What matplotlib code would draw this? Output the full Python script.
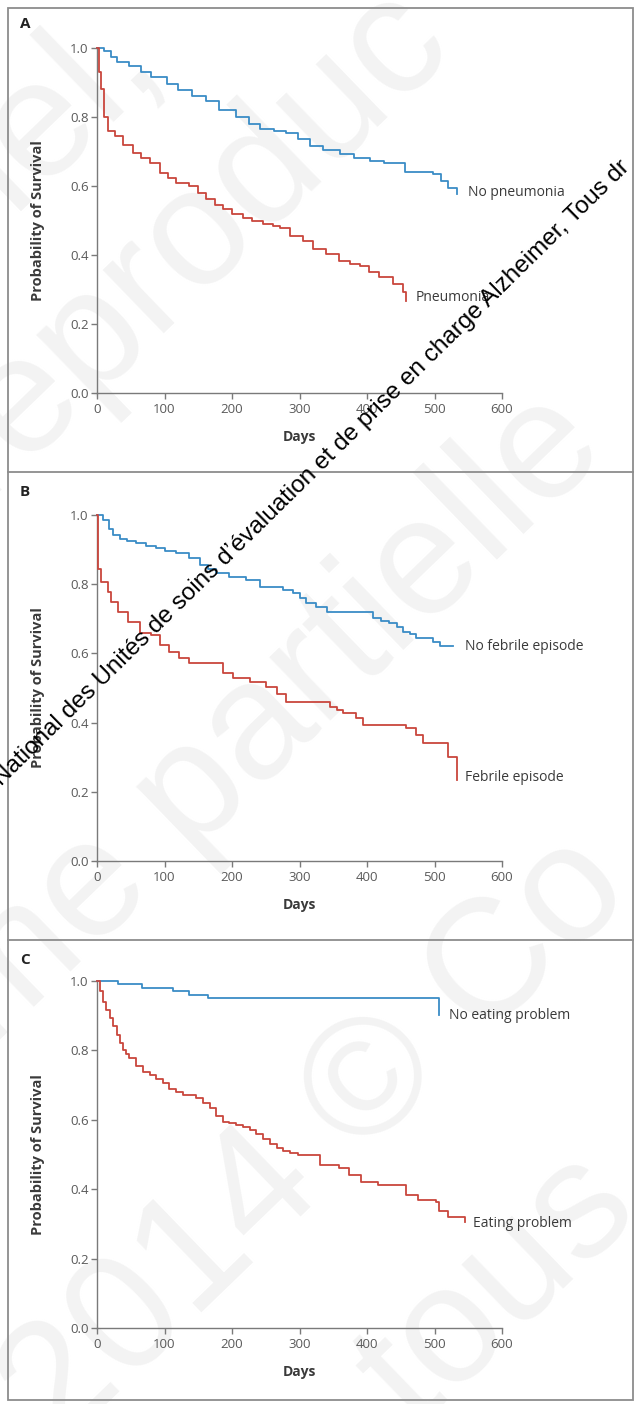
import matplotlib
matplotlib.use("Agg")
import matplotlib.pyplot as plt
from matplotlib.patches import Rectangle
from matplotlib.lines import Line2D

# panel A : pneumonia
days_a_no = [0, 10, 20, 30, 48, 65, 80, 103, 120, 140, 162, 180, 206, 225, 241, 262, 280, 298,
             315, 335, 360, 380, 404, 425, 448, 456, 480, 498, 510, 520, 534]
surv_a_no = [1.0, 0.99, 0.975, 0.96, 0.947, 0.93, 0.915, 0.895, 0.877, 0.86, 0.846, 0.82, 0.8,
             0.78, 0.766, 0.76, 0.755, 0.736, 0.716, 0.705, 0.692, 0.68, 0.673, 0.666, 0.666,
             0.64, 0.64, 0.635, 0.615, 0.595, 0.578]
days_a_yes = [0, 3, 6, 11, 16, 26, 38, 53, 65, 78, 93, 105, 117, 137, 150, 162, 175, 187, 200,
              216, 230, 246, 260, 271, 286, 305, 320, 339, 359, 375, 389, 403, 418, 438, 453, 458]
surv_a_yes = [1.0, 0.93, 0.88, 0.80, 0.76, 0.745, 0.72, 0.696, 0.68, 0.667, 0.638, 0.622, 0.609,
              0.6, 0.58, 0.561, 0.545, 0.532, 0.52, 0.508, 0.498, 0.489, 0.483, 0.478, 0.455,
              0.44, 0.418, 0.403, 0.383, 0.375, 0.369, 0.35, 0.335, 0.316, 0.292, 0.268]

# panel B : febrile episode
days_b_no = [0, 9, 18, 24, 34, 45, 58, 72, 88, 100, 117, 137, 152, 165, 177, 196, 221, 241, 275,
             290, 300, 310, 325, 340, 401, 409, 420, 433, 445, 453, 463, 473, 498, 508, 527]
surv_b_no = [1.0, 0.985, 0.96, 0.942, 0.932, 0.925, 0.918, 0.91, 0.904, 0.895, 0.889, 0.875,
             0.855, 0.845, 0.831, 0.822, 0.812, 0.793, 0.783, 0.775, 0.759, 0.745, 0.735, 0.721,
             0.721, 0.702, 0.695, 0.687, 0.675, 0.663, 0.655, 0.644, 0.634, 0.62, 0.62]
days_b_yes = [0, 1, 6, 16, 21, 31, 46, 63, 80, 93, 107, 122, 137, 172, 187, 201, 226, 251, 266,
              280, 335, 345, 355, 364, 384, 394, 443, 458, 473, 483, 517, 520, 532, 533]
surv_b_yes = [1.0, 0.845, 0.807, 0.778, 0.749, 0.72, 0.692, 0.658, 0.653, 0.624, 0.605, 0.586,
              0.571, 0.571, 0.542, 0.528, 0.518, 0.504, 0.484, 0.46, 0.46, 0.446, 0.437, 0.427,
              0.412, 0.393, 0.393, 0.383, 0.364, 0.34, 0.34, 0.302, 0.302, 0.234]

# panel C : eating problem
days_c_no = [0, 31, 66, 113, 137, 164, 506]
surv_c_no = [1.0, 0.99, 0.981, 0.971, 0.961, 0.951, 0.902]
days_c_yes = [0, 4, 9, 14, 19, 24, 29, 34, 38, 43, 48, 58, 68, 78, 88, 98, 107, 117, 127, 147,
              157, 167, 177, 187, 196, 206, 216, 226, 236, 246, 256, 266, 276, 286, 298, 315,
              330, 359, 374, 391, 416, 448, 458, 475, 502, 507, 520, 545]
surv_c_yes = [1.0, 0.97, 0.94, 0.915, 0.892, 0.87, 0.845, 0.82, 0.801, 0.79, 0.777, 0.755, 0.739,
              0.729, 0.719, 0.705, 0.69, 0.68, 0.671, 0.662, 0.648, 0.633, 0.612, 0.594, 0.59,
              0.585, 0.578, 0.57, 0.558, 0.546, 0.53, 0.518, 0.51, 0.503, 0.498, 0.498, 0.469,
              0.46, 0.44, 0.421, 0.411, 0.411, 0.383, 0.368, 0.364, 0.336, 0.321, 0.306]

panel_letters = ["A", "B", "C"]
labels_no = ["No pneumonia", "No febrile episode", "No eating problem"]
labels_yes = ["Pneumonia", "Febrile episode", "Eating problem"]
x_ticks = [0, 100, 200, 300, 400, 500, 600]
y_ticks = [0.0, 0.2, 0.4, 0.6, 0.8, 1.0]

BLUE = "#3a8cc6"
RED = "#c9463d"
GREY = "#7a7a7a"
TXT = "#3a3a3a"

W, H = 639, 1404
plt.rcParams['font.family'] = ['Open Sans', 'DejaVu Sans']

fig = plt.figure(figsize=(W / 100, H / 100), dpi=100)
fig.patch.set_facecolor("white")

# faint background watermark, behind everything
faint = "#f3f3f3"
for txt, x0, y0 in [("nel,", -30, 250), ("reproduc", -20, 500), ("me partielle", -10, 1050),
                    ("2014 © Co", 60, 1450), ("tous", 415, 1430)]:
    fig.text(x0 / W, 1 - y0 / H, txt, rotation=44, rotation_mode="anchor", ha="left",
             va="baseline", fontsize=120, color=faint, family="Liberation Sans", zorder=-5)

# panel frame
fig.add_artist(Rectangle((8 / W, 1 - 1400 / H), 625 / W, 1392 / H, transform=fig.transFigure,
                         fill=False, ec="#8c8c8c", lw=1.3, zorder=1))
for yy in [472, 940]:
    fig.add_artist(Line2D([8 / W, 633 / W], [1 - yy / H, 1 - yy / H], transform=fig.transFigure,
                          color="#8c8c8c", lw=1.3, zorder=1))

curves = [
    (days_a_no, surv_a_no, days_a_yes, surv_a_yes),
    (days_b_no, surv_b_no, days_b_yes, surv_b_yes),
    (days_c_no, surv_c_no, days_c_yes, surv_c_yes),
]
# axis boxes in pixels: top (y=1.0) and bottom (y=0.0)
boxes = [(48, 393), (515, 861), (981, 1328)]
letter_y = [24, 492, 960]
# text label anchors (days, survival)
pos_no = [(549, 0.58), (545, 0.62), (522, 0.90)]
pos_yes = [(472, 0.278), (545, 0.24), (557, 0.30)]

for i in range(3):
    top, bot = boxes[i]
    ax = fig.add_axes([97 / W, 1 - bot / H, 405 / W, (bot - top) / H])
    ax.set_facecolor("none")
    dn, sn, dy, sy = curves[i]
    ax.step(dn, sn, where="post", color=BLUE, lw=1.3, clip_on=False, zorder=3)
    ax.step(dy, sy, where="post", color=RED, lw=1.3, clip_on=False, zorder=3)
    ax.set_xlim(0, 600)
    ax.set_ylim(0, 1.0)
    ax.set_xticks(x_ticks)
    ax.set_yticks(y_ticks)
    ax.set_yticklabels(["%.1f" % v for v in y_ticks])
    for s in ["top", "right"]:
        ax.spines[s].set_visible(False)
    for s in ["left", "bottom"]:
        ax.spines[s].set_color(GREY)
        ax.spines[s].set_linewidth(1.0)
    ax.tick_params(direction="out", length=4, width=1.0, color=GREY, labelcolor="#5a5a5a",
                   labelsize=9.5)
    ax.tick_params(axis="x", pad=3)
    ax.tick_params(axis="y", pad=2)
    ax.set_xlabel("Days", fontsize=10, fontweight="bold", color=TXT)
    ax.xaxis.set_label_coords(0.5, -0.108)
    ax.set_ylabel("Probability of Survival", fontsize=10.5, fontweight="bold", color=TXT)
    ax.yaxis.set_label_coords(-0.128, 0.5)
    ax.text(pos_no[i][0], pos_no[i][1], labels_no[i], fontsize=10, color=TXT, va="center",
            ha="left", clip_on=False)
    ax.text(pos_yes[i][0], pos_yes[i][1], labels_yes[i], fontsize=10, color=TXT, va="center",
            ha="left", clip_on=False)
    fig.text(25 / W, 1 - letter_y[i] / H, panel_letters[i], fontsize=11, fontweight="bold",
             color="#222222", ha="center", va="center")

# dark diagonal watermark
fig.text(1 / W, 1 - 786 / H,
         "National des Unités de soins d’évaluation et de prise en charge Alzheimer, Tous dr",
         rotation=44.5, rotation_mode="anchor", ha="left", va="baseline", fontsize=17.5,
         color="black", family="Liberation Sans", zorder=10)

fig.savefig("out.png", dpi=100)
